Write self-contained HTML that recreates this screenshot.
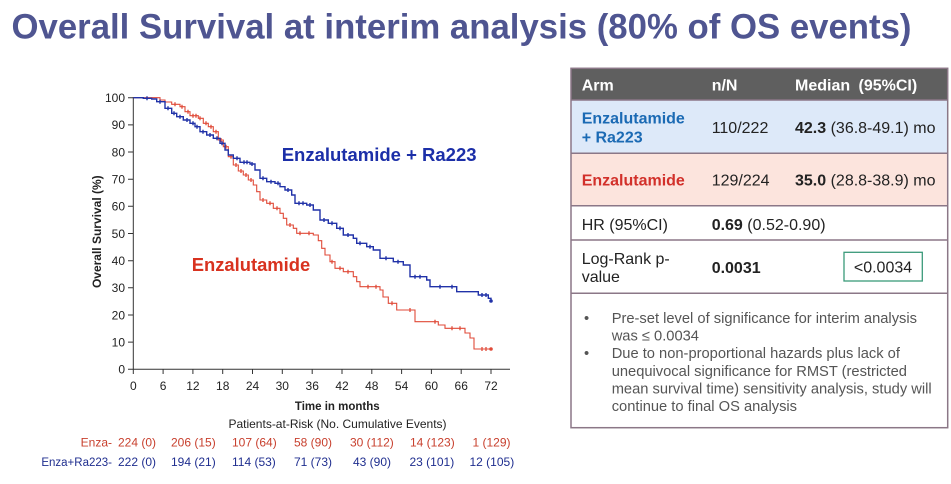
<!DOCTYPE html>
<html><head><meta charset="utf-8"><style>
html,body{margin:0;padding:0;background:#fff;}
svg{display:block;font-family:"Liberation Sans",Arial,sans-serif;}
</style></head><body>
<svg width="951" height="484" viewBox="0 0 951 484" xmlns="http://www.w3.org/2000/svg">
<rect width="951" height="484" fill="#fff"/>
<!-- Title -->
<text x="11.5" y="38.5" font-size="35" font-weight="bold" fill="#4f5591" textLength="900" lengthAdjust="spacingAndGlyphs">Overall Survival at interim analysis (80% of OS events)</text>

<!-- Axes -->
<g stroke="#333" stroke-width="1" fill="none">
<line x1="133.3" y1="97" x2="133.3" y2="369.3"/>
<line x1="128" y1="369.3" x2="510" y2="369.3"/>
<path d="M128 97.7H133.3M128 124.9H133.3M128 152H133.3M128 179.2H133.3M128 206.3H133.3M128 233.5H133.3M128 260.7H133.3M128 287.8H133.3M128 315H133.3M128 342.1H133.3"/>
<path d="M133.3 369.3V374M163.1 369.3V374M192.9 369.3V374M222.7 369.3V374M252.5 369.3V374M282.3 369.3V374M312.2 369.3V374M342 369.3V374M371.8 369.3V374M401.6 369.3V374M431.4 369.3V374M461.2 369.3V374M491 369.3V374"/>
</g>
<g font-size="12" fill="#222" text-anchor="end">
<text x="125" y="102">100</text><text x="125" y="129.2">90</text><text x="125" y="156.3">80</text><text x="125" y="183.5">70</text><text x="125" y="210.6">60</text><text x="125" y="237.8">50</text><text x="125" y="265">40</text><text x="125" y="292.1">30</text><text x="125" y="319.3">20</text><text x="125" y="346.4">10</text><text x="125" y="373.6">0</text>
</g>
<g font-size="12" fill="#222" text-anchor="middle">
<text x="133.3" y="390">0</text><text x="163.1" y="390">6</text><text x="192.9" y="390">12</text><text x="222.7" y="390">18</text><text x="252.5" y="390">24</text><text x="282.3" y="390">30</text><text x="312.2" y="390">36</text><text x="342" y="390">42</text><text x="371.8" y="390">48</text><text x="401.6" y="390">54</text><text x="431.4" y="390">60</text><text x="461.2" y="390">66</text><text x="491" y="390">72</text>
</g>
<text transform="translate(101,231.7) rotate(-90)" font-size="12" font-weight="bold" fill="#222" text-anchor="middle">Overall Survival (%)</text>
<text x="337.3" y="410" font-size="11.5" font-weight="bold" fill="#222" text-anchor="middle">Time in months</text>
<text x="337.5" y="428" font-size="12" fill="#222" text-anchor="middle">Patients-at-Risk (No. Cumulative Events)</text>

<!-- Curves -->
<path fill="none" stroke="#e04a38" stroke-width="1.1" d="M133.3 97.7H160V100H165V102H171.7V104.3H180V106.7H185V111.7H190V115.7H198.3V118.3H203.3V123.3H208.3V126.7H213.3V131.7H218.3V140H223.3V146.7H228.3V156.7H233.3V165H238.3V171H243.3V175H248.3V180H253.3V185H256.7V191.7H260V200H266.7V203.3H273.3V208.3H280V213.3H283.3V218.3H286.7V225H293.3V228.3H296.7V233.3H313.3V235H318.3V240.7H321.7V248.3H325V255H330V261.7H335V268.3H343.3V271.7H353.3V276.7H356.7V281.7H360V286.7H380V290H383V297H388.3V303.3H396.7V310H415V321.7H438.3V325H445V328.3H465V333H470V338H474V349H491"/>
<path fill="none" stroke="#e04a38" stroke-width="1.3" d="M175 102.3v4M182 104.7v4M188 109.7v4M193 113.7v4M196 113.7v4M200 116.3v4M206 121.3v4M211 124.7v4M216 129.7v4M221 138v4M226 144.7v4M231 154.7v4M236 163v4M241 169v4M246 173v4M251 178v4M263 198v4M270 201.3v4M277 206.3v4M290 223v4M300 231.3v4M309 231.3v4M332 259.7v4M340 266.3v4M348 269.7v4M368 284.7v4M376 284.7v4M392 301.3v4M410 308v4M435 319.7v4M452 326.3v4M460 326.3v4M482 347v4M486 347v4"/>
<circle cx="491" cy="349" r="1.8" fill="#e04a38"/>

<path fill="none" stroke="#2132a8" stroke-width="1.4" d="M133.3 97.7H143.3V98.3H151.7V99H156.7V101.7H165V108.3H171.7V113.3H176.7V116.7H183.3V120H190V123.3H195V126.7H200V131.7H206.7V135H213.3V138.3H220V143.3H225V150H228.3V155H233.3V158.3H240V162.3H250V164H255V170H260V178.3H266.7V181.7H275V183.3H280V186.7H285V190H291.7V195H295V203.3H306.7V205H313.3V210H320V220H328.3V223.3H336.7V228.3H343.3V235H353.3V238.3H356.7V243.3H366.7V246.7H373.3V250H380V258.3H393.3V261.7H403.3V265H410V276.7H426.7V280H430V286.7H456.7V291.7H478.3V295H488.3V298.3H491V301"/>
<path fill="none" stroke="#2132a8" stroke-width="1.4" d="M147 96.3v4M160 99.7v4M168 106.3v4M174 111.3v4M180 114.7v4M187 118v4M193 121.3v4M197 124.7v4M203 129.7v4M210 133v4M217 136.3v4M222 141.3v4M237 156.3v4M244 160.3v4M247 160.3v4M252 162v4M263 176.3v4M271 179.7v4M278 181.3v4M288 188v4M299 201.3v4M303 201.3v4M310 203v4M324 218v4M332 221.3v4M340 226.3v4M348 233v4M360 241.3v4M370 244.7v4M386 256.3v4M398 259.7v4M415 274.7v4M420 274.7v4M440 284.7v4M452 284.7v4M482 293v4M486 293v4"/>
<circle cx="491" cy="301" r="1.8" fill="#2132a8"/>

<text x="281.7" y="161" font-size="18.5" font-weight="bold" fill="#1c2fa8">Enzalutamide + Ra223</text>
<text x="191.7" y="271" font-size="18.4" font-weight="bold" fill="#d8321f">Enzalutamide</text>

<!-- Risk table -->
<g font-size="12" fill="#c8402e">
<text x="112" y="446.5" text-anchor="end">Enza-</text>
<text x="118" y="446.5">224 (0)</text><text x="171" y="446.5">206 (15)</text><text x="232" y="446.5">107 (64)</text><text x="294" y="446.5">58 (90)</text><text x="350" y="446.5">30 (112)</text><text x="410" y="446.5">14 (123)</text><text x="472.5" y="446.5">1 (129)</text>
</g>
<g font-size="12" fill="#1f2e8f">
<text x="112" y="466" text-anchor="end" font-size="11.5">Enza+Ra223-</text>
<text x="118" y="466">222 (0)</text><text x="171" y="466">194 (21)</text><text x="232" y="466">114 (53)</text><text x="294" y="466">71 (73)</text><text x="353" y="466">43 (90)</text><text x="409.5" y="466">23 (101)</text><text x="469.5" y="466">12 (105)</text>
</g>

<!-- Right table -->
<rect x="571" y="68.3" width="376.7" height="31.7" fill="#5f5f5f"/>
<rect x="571" y="100" width="376.7" height="53.3" fill="#dde9f9"/>
<rect x="571" y="153.3" width="376.7" height="52.4" fill="#fce4dd"/>
<g stroke="#8b7787" stroke-width="1.5" fill="none">
<rect x="571" y="68.3" width="376.7" height="359.4"/>
<line x1="571" y1="100" x2="947.7" y2="100"/>
<line x1="571" y1="153.3" x2="947.7" y2="153.3"/>
<line x1="571" y1="205.7" x2="947.7" y2="205.7"/>
<line x1="571" y1="240" x2="947.7" y2="240"/>
<line x1="571" y1="293.3" x2="947.7" y2="293.3"/>
</g>
<g font-size="16" font-weight="bold" fill="#fff">
<text x="581.7" y="90.7">Arm</text><text x="711.7" y="90.7">n/N</text><text x="795" y="90.7">Median</text><text x="858.5" y="90.7">(95%CI)</text>
</g>
<g font-size="16" font-weight="bold" fill="#1b6ab4">
<text x="581.7" y="123.4">Enzalutamide</text><text x="581.7" y="142.4">+ Ra223</text>
</g>
<text x="581.7" y="185.7" font-size="16" font-weight="bold" fill="#d2302a">Enzalutamide</text>
<g font-size="16" fill="#222">
<text x="711.7" y="133">110/222</text>
<text x="795" y="133"><tspan font-weight="bold">42.3</tspan> (36.8-49.1) mo</text>
<text x="711.7" y="185.7">129/224</text>
<text x="795" y="185.7"><tspan font-weight="bold">35.0</tspan> (28.8-38.9) mo</text>
<text x="581.7" y="230">HR (95%CI)</text>
<text x="711.7" y="230"><tspan font-weight="bold">0.69</tspan> (0.52-0.90)</text>
<text x="581.7" y="264">Log-Rank p-</text>
<text x="581.7" y="282">value</text>
<text x="711.7" y="273" font-weight="bold">0.0031</text>
<text x="883" y="272.3" text-anchor="middle">&lt;0.0034</text>
</g>
<rect x="844" y="252.3" width="78.3" height="28.7" fill="none" stroke="#3a9a7a" stroke-width="1.3"/>
<g font-size="14.7" fill="#555">
<text x="584" y="323">•</text>
<text x="611.7" y="323">Pre-set level of significance for interim analysis</text>
<text x="611.7" y="340.6">was ≤ 0.0034</text>
<text x="584" y="358.2">•</text>
<text x="611.7" y="358.2">Due to non-proportional hazards plus lack of</text>
<text x="611.7" y="375.8">unequivocal significance for RMST (restricted</text>
<text x="611.7" y="393.4">mean survival time) sensitivity analysis, study will</text>
<text x="611.7" y="411">continue to final OS analysis</text>
</g>
</svg>
</body></html>
